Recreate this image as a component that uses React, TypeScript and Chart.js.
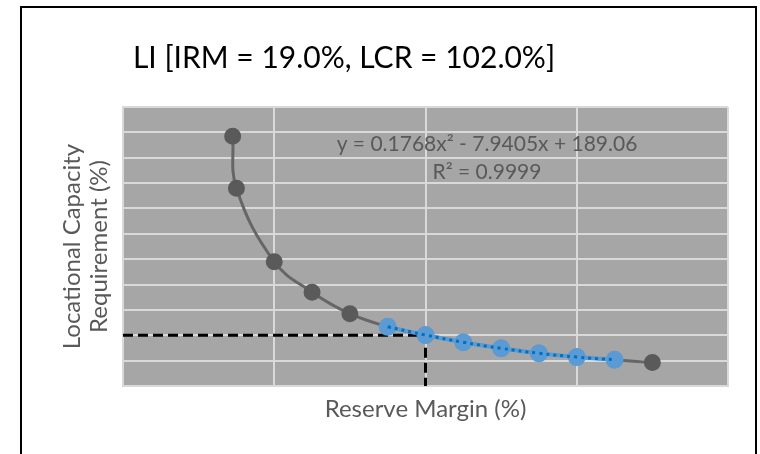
import React, { useEffect, useRef } from "react";
import { Chart, registerables } from "chart.js";

Chart.register(...registerables);

// ---- data ----
const curveX = [16.45, 16.5, 17, 17.5, 18, 18.5, 19, 19.5, 20, 20.5, 21, 21.5, 22];
const curveY = [117.7, 113.6, 107.8, 105.4, 103.7, 102.67, 102.02, 101.45, 100.97, 100.58, 100.28, 100.07, 99.85];
const fitX = [18.5, 19, 19.5, 20, 20.5, 21, 21.5];
const fitY = [102.67, 102.02, 101.45, 100.97, 100.58, 100.28, 100.07];
const irm = 19.0;
const lcr = 102.0;
const xRange = [15, 23];
const yRange = [98, 120];
const xStep = 2;
const yStep = 2;
const titleText = "LI [IRM = 19.0%, LCR = 102.0%]";
const xTitle = "Reserve Margin (%)";
const yTitle = ["Locational Capacity", "Requirement (%)"];
const eqLines = ["y = 0.1768x\u00B2 - 7.9405x + 189.06", "R\u00B2 = 0.9999"];

const FONT = "Lato";
const TEXT = "#595959";

const bgPlugin = {
  id: "plotBg",
  beforeDraw(chart: any) {
    const { ctx, chartArea } = chart;
    ctx.save();
    ctx.fillStyle = "#A6A6A6";
    ctx.fillRect(chartArea.left, chartArea.top, chartArea.right - chartArea.left, chartArea.bottom - chartArea.top);
    ctx.restore();
  },
};

const textPlugin = {
  id: "texts",
  afterDraw(chart: any) {
    const { ctx } = chart;
    ctx.save();
    ctx.textAlign = "center";
    ctx.textBaseline = "middle";
    ctx.fillStyle = "#000000";
    ctx.font = `30px ${FONT}`;
    ctx.fillText(titleText, 344, 58);
    ctx.fillStyle = TEXT;
    ctx.font = `21px ${FONT}`;
    ctx.fillText(eqLines[0], 487, 144);
    ctx.fillText(eqLines[1], 487, 172);
    ctx.restore();
  },
};

export default function App() {
  const ref = useRef<HTMLCanvasElement | null>(null);

  useEffect(() => {
    if (!ref.current) return;
    const curve = curveX.map((x, i) => ({ x, y: curveY[i] }));
    const fit = fitX.map((x, i) => ({ x, y: fitY[i] }));
    const guide = [
      { x: xRange[0], y: lcr },
      { x: irm, y: lcr },
      { x: irm, y: yRange[0] },
    ];
    const chart = new Chart(ref.current, {
      type: "scatter",
      data: {
        datasets: [
          {
            label: "trend",
            data: fit,
            showLine: true,
            borderColor: "#0070C0",
            borderWidth: 3,
            borderDash: [3, 4],
            pointRadius: 0,
            tension: 0.4,
            order: 1,
          } as any,
          {
            label: "fit",
            data: fit,
            showLine: true,
            borderColor: "#5B9BD5",
            borderWidth: 4,
            backgroundColor: "#5B9BD5",
            pointBackgroundColor: "#5B9BD5",
            pointBorderColor: "#5B9BD5",
            pointRadius: 7,
            tension: 0.4,
            order: 2,
          } as any,
          {
            label: "guide",
            data: guide,
            showLine: true,
            borderColor: "#000000",
            borderWidth: 3,
            borderDash: [10, 5],
            pointRadius: 0,
            tension: 0,
            order: 3,
          } as any,
          {
            label: "curve",
            data: curve,
            showLine: true,
            borderColor: "#666666",
            borderWidth: 3,
            backgroundColor: "#5A5A5A",
            pointBackgroundColor: "#5A5A5A",
            pointBorderColor: "#5A5A5A",
            pointRadius: 7,
            tension: 0.4,
            order: 4,
          } as any,
        ],
      },
      options: {
        responsive: false,
        animation: false,
        events: [],
        layout: { padding: { left: 40, right: 32, top: 107, bottom: 0 } },
        plugins: {
          legend: { display: false },
          tooltip: { enabled: false },
          title: { display: false },
        },
        scales: {
          x: {
            type: "linear",
            min: xRange[0],
            max: xRange[1],
            ticks: { display: false, stepSize: xStep },
            grid: { color: "#D9D9D9", lineWidth: 2, drawTicks: false },
            border: { display: true, color: "#D9D9D9", width: 2 },
            title: {
              display: true,
              text: xTitle,
              color: TEXT,
              font: { family: FONT, size: 24, lineHeight: 1.125 },
              padding: { top: 0, bottom: 31.5 },
            },
            afterFit(scale: any) {
              scale.height = 68;
            },
          },
          y: {
            type: "linear",
            min: yRange[0],
            max: yRange[1],
            ticks: { display: false, stepSize: yStep },
            grid: { color: "#D9D9D9", lineWidth: 2, drawTicks: false },
            border: { display: true, color: "#D9D9D9", width: 2 },
            title: {
              display: true,
              text: yTitle,
              color: TEXT,
              font: { family: FONT, size: 24, lineHeight: 1.125 },
              padding: { top: 18.5, bottom: 0 },
            },
            afterFit(scale: any) {
              scale.width = 83;
            },
          },
        },
      } as any,
      plugins: [bgPlugin, textPlugin],
    });
    return () => chart.destroy();
  }, []);

  return (
    <div style={{ position: "fixed", left: 0, top: 0, width: 760, height: 454, overflow: "hidden", background: "#fff" }}>
      <div
        style={{
          position: "absolute",
          left: 20,
          top: 6,
          width: 737,
          height: 470,
          border: "2px solid #000",
          boxSizing: "border-box",
        }}
      />
      <canvas ref={ref} width={760} height={454} style={{ position: "absolute", left: 0, top: 0, display: "block" }} />
    </div>
  );
}
